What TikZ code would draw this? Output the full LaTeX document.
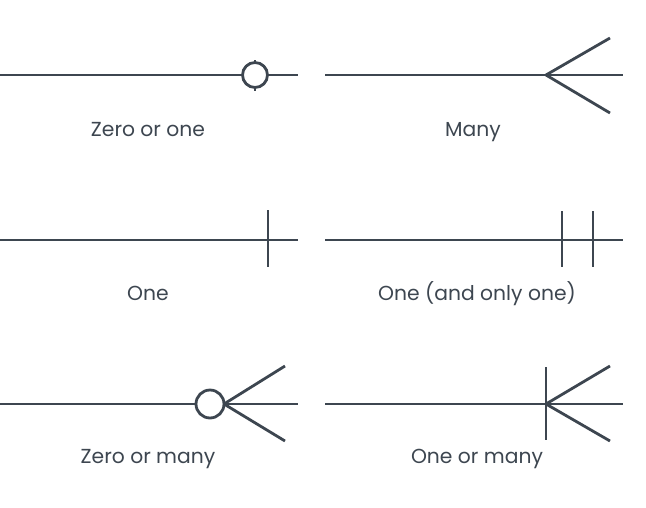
\documentclass[tikz,border=0pt]{standalone}
\usepackage{fontspec}
\setmainfont{Poppins}
\definecolor{ink}{HTML}{3D4650}
\begin{document}
\begin{tikzpicture}[x=1pt,y=-1pt,
  rel/.style={draw=ink,line width=2.8pt},
  ring/.style={circle,draw=ink,line width=2.8pt,fill=white,minimum size=#1,inner sep=0pt},
  caption/.style={text=ink,font=\fontsize{20.3}{24}\selectfont,anchor=base}]
\useasboundingbox (0,0) rectangle (646,507);

% Zero or one
\coordinate (a0) at (0,75);
\coordinate (a1) at (298,75);
\coordinate (at1) at (255,60);
\coordinate (at2) at (255,91);
\draw[rel] (a0) -- (a1);
\draw[rel] (at1) -- (at2);
\node[ring=25pt] (ac) at (255,75) {};
\node[caption] (al) at (148,136) {Zero or one};

% Many
\coordinate (b0) at (325,75);
\coordinate (b1) at (623,75);
\coordinate (bp) at (546,75);
\coordinate (bu) at (610,38);
\coordinate (bd) at (610,113);
\draw[rel] (b0) -- (b1);
\draw[rel,line join=round] (bu) -- (bp) -- (bd);
\node[caption] (bl) at (473,136) {Many};

% One
\coordinate (c0) at (0,240);
\coordinate (c1) at (298,240);
\coordinate (ct1) at (268,210);
\coordinate (ct2) at (268,267);
\draw[rel] (c0) -- (c1);
\draw[rel] (ct1) -- (ct2);
\node[caption] (cl) at (148,300) {One};

% One (and only one)
\coordinate (d0) at (325,240);
\coordinate (d1) at (623,240);
\coordinate (dt1) at (562,211);
\coordinate (dt2) at (562,267);
\coordinate (dt3) at (593,211);
\coordinate (dt4) at (593,267);
\draw[rel] (d0) -- (d1);
\draw[rel] (dt1) -- (dt2);
\draw[rel] (dt3) -- (dt4);
\node[caption] (dl) at (477,300) {One (and only one)};

% Zero or many
\coordinate (e0) at (0,404);
\coordinate (e1) at (298,404);
\coordinate (ep) at (224,404);
\coordinate (eu) at (285,366);
\coordinate (ed) at (285,441);
\draw[rel] (e0) -- (e1);
\draw[rel,line join=round] (eu) -- (ep) -- (ed);
\node[ring=28pt] (ec) at (210,404) {};
\node[caption] (el) at (148,463) {Zero or many};

% One or many
\coordinate (f0) at (325,404);
\coordinate (f1) at (623,404);
\coordinate (fp) at (546,404);
\coordinate (fu) at (610,366);
\coordinate (fd) at (610,441);
\coordinate (ft1) at (546,367);
\coordinate (ft2) at (546,440);
\draw[rel] (f0) -- (f1);
\draw[rel] (ft1) -- (ft2);
\draw[rel,line join=round] (fu) -- (fp) -- (fd);
\node[caption] (fl) at (477,463) {One or many};
\end{tikzpicture}
\end{document}
